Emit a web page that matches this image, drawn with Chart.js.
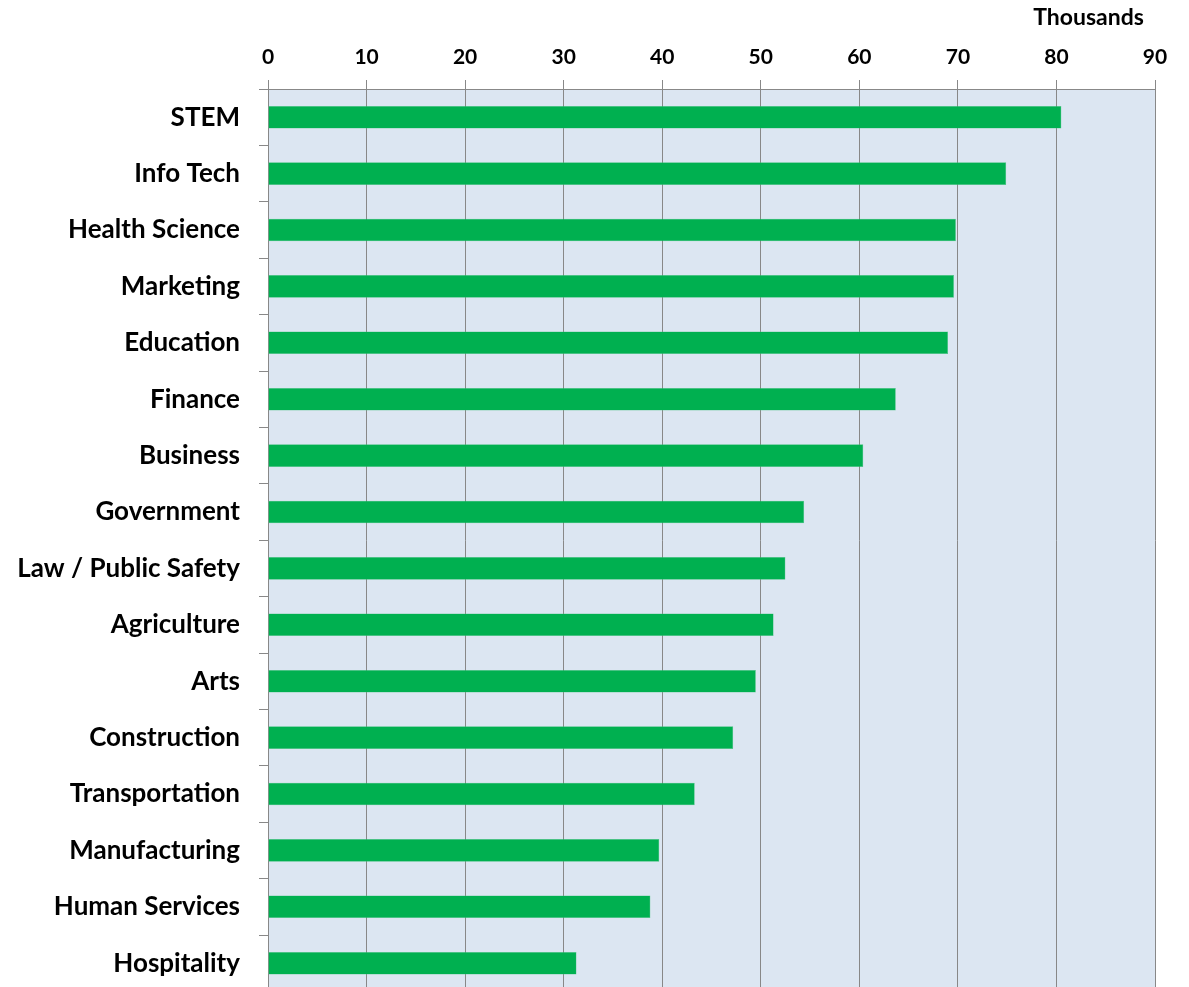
<!DOCTYPE html>
<html>
<head>
<meta charset="utf-8">
<script src="https://cdn.jsdelivr.net/npm/chart.js@4"></script>
<style>
  html, body { margin: 0; padding: 0; background: #fff; overflow: hidden; }
  canvas { display: block; }
</style>
</head>
<body>
<canvas id="salaryChart" width="1189" height="1026"></canvas>
<script>
var categories = ['STEM', 'Info Tech', 'Health Science', 'Marketing', 'Education', 'Finance',
    'Business', 'Government', 'Law / Public Safety', 'Agriculture', 'Arts', 'Construction',
    'Transportation', 'Manufacturing', 'Human Services', 'Hospitality'];
// average salary, in thousands
var salaries = [80.5, 74.9, 69.8, 69.6, 69.0, 63.7, 60.4, 54.4, 52.5, 51.3, 49.5, 47.2,
    43.3, 39.7, 38.8, 31.3];
var xTicks = [0, 10, 20, 30, 40, 50, 60, 70, 80, 90];

var fontFamily = 'Lato, "Open Sans", sans-serif';

// light blue fill behind the plot area
var plotBackground = {
    id: 'plotBackground',
    beforeDraw: function (chart) {
        var a = chart.chartArea;
        var ctx = chart.ctx;
        ctx.save();
        ctx.fillStyle = '#dce6f2';
        ctx.fillRect(a.left, a.top, a.right - a.left, a.bottom - a.top);
        ctx.restore();
    }
};

var ctx = document.getElementById('salaryChart').getContext('2d');
var chart = new Chart(ctx, {
    type: 'bar',
    data: {
        labels: categories,
        datasets: [{
            data: salaries,
            backgroundColor: '#00b050',
            borderColor: '#4cc482',
            borderWidth: 0.5,
            borderSkipped: false,
            categoryPercentage: 1,
            barPercentage: 0.4
        }]
    },
    plugins: [plotBackground],
    options: {
        indexAxis: 'y',
        responsive: false,
        animation: false,
        layout: { padding: { left: 0, right: 34, top: 0, bottom: 0 } },
        plugins: {
            legend: { display: false },
            tooltip: { enabled: false }
        },
        scales: {
            x: {
                position: 'top',
                min: 0,
                max: 90,
                afterBuildTicks: function (axis) {
                    axis.ticks = xTicks.map(function (v) { return { value: v }; });
                },
                afterFit: function (axis) { axis.height = 89; },
                grid: { color: '#888888', lineWidth: 1, tickLength: 9, drawTicks: true },
                border: { color: '#888888', width: 1 },
                ticks: { color: '#000', font: { family: fontFamily, size: 21, weight: 'bold' }, padding: 10, maxRotation: 0 },
                title: {
                    display: true,
                    text: 'Thousands  ',
                    align: 'end',
                    color: '#000',
                    font: { family: fontFamily, size: 23, weight: 'bold' },
                    padding: { top: 4, bottom: 0 }
                }
            },
            y: {
                afterFit: function (axis) { axis.width = 268; },
                grid: { drawOnChartArea: false, color: '#888888', tickLength: 9, offset: true },
                border: { color: '#888888', width: 1 },
                ticks: { color: '#000', font: { family: fontFamily, size: 26, weight: 'bold' }, padding: 19, autoSkip: false }
            }
        }
    }
});
</script>
</body>
</html>
